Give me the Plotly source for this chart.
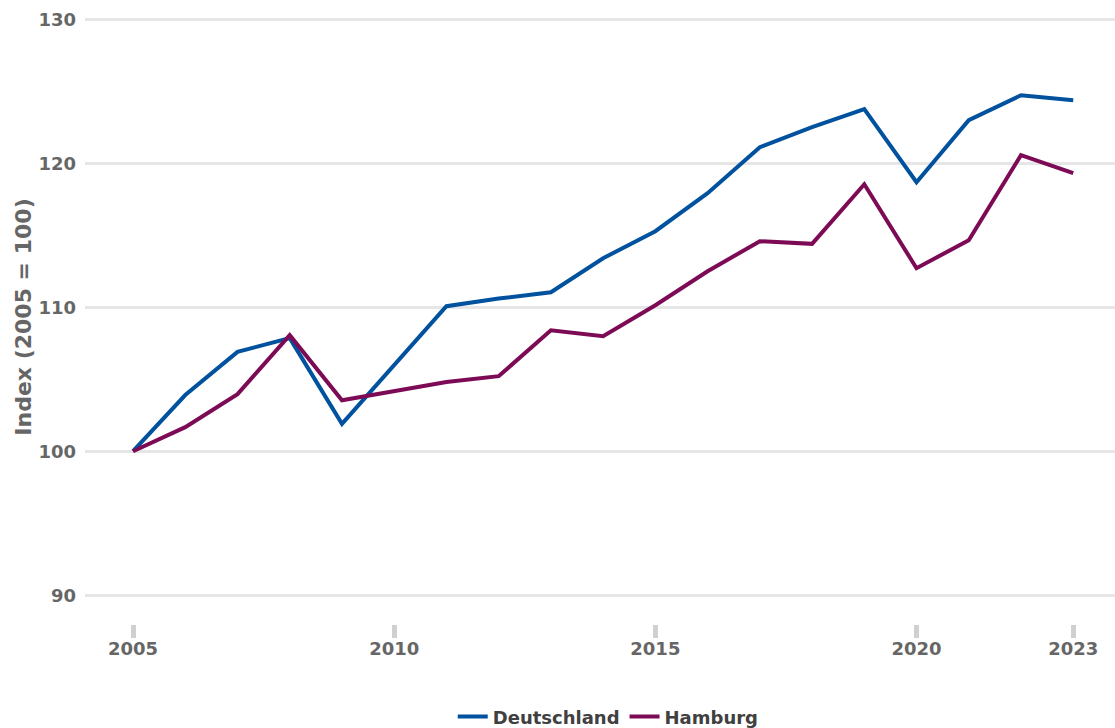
import plotly.graph_objects as go

years = list(range(2005, 2024))
deutschland = [100.0, 103.9, 106.9, 107.85, 101.9, 106.0, 110.07, 110.6, 111.04, 113.4,
               115.28, 117.92, 121.11, 122.5, 123.75, 118.68, 122.99, 124.72, 124.38]
hamburg = [100.0, 101.67, 103.96, 108.06, 103.54, 104.2, 104.8, 105.21, 108.4, 107.99,
           110.14, 112.5, 114.58, 114.4, 118.54, 112.71, 114.65, 120.56, 119.31]
x_ticks = [2005, 2010, 2015, 2020, 2023]
y_ticks = [90, 100, 110, 120, 130]

font_family = "DejaVu Sans"

fig = go.Figure()
fig.add_trace(go.Scatter(x=years, y=deutschland, mode="lines", name="Deutschland",
                         line=dict(color="#00519e", width=4)))
fig.add_trace(go.Scatter(x=years, y=hamburg, mode="lines", name="Hamburg",
                         line=dict(color="#7d0a55", width=4)))

fig.update_layout(
    width=1115, height=728,
    margin=dict(l=85, r=0, t=10, b=104, autoexpand=False),
    paper_bgcolor="white", plot_bgcolor="white",
    font=dict(family=font_family, size=18, color="#666666"),
    showlegend=True,
    legend=dict(orientation="h", x=0.508, xanchor="center", y=-0.121, yanchor="top",
                font=dict(family=font_family, size=18, color="#404040", weight="bold")),
    xaxis=dict(range=[2004.08, 2023.8], tickvals=x_ticks, ticktext=[str(v) for v in x_ticks],
               showgrid=False, zeroline=False, showline=False, automargin=False,
               ticks="outside", ticklen=13, tickwidth=5, tickcolor="#d0d0d0",
               ticklabelstandoff=-5,
               tickfont=dict(family=font_family, size=18, color="#666666", weight="bold")),
    yaxis=dict(range=[88, 130.64], tickvals=y_ticks, showgrid=True, gridcolor="#e6e6e6",
               gridwidth=3, zeroline=False, showline=False, ticks="", ticklabelstandoff=8,
               automargin=False,
               tickfont=dict(family=font_family, size=18, color="#666666", weight="bold"),
               title=dict(text="Index (2005 = 100)", standoff=0,
                          font=dict(family=font_family, size=22, color="#666666", weight="bold"))),
)

fig.write_html("out.html", config={"displayModeBar": False},
               post_script="document.body.style.margin='0';")
